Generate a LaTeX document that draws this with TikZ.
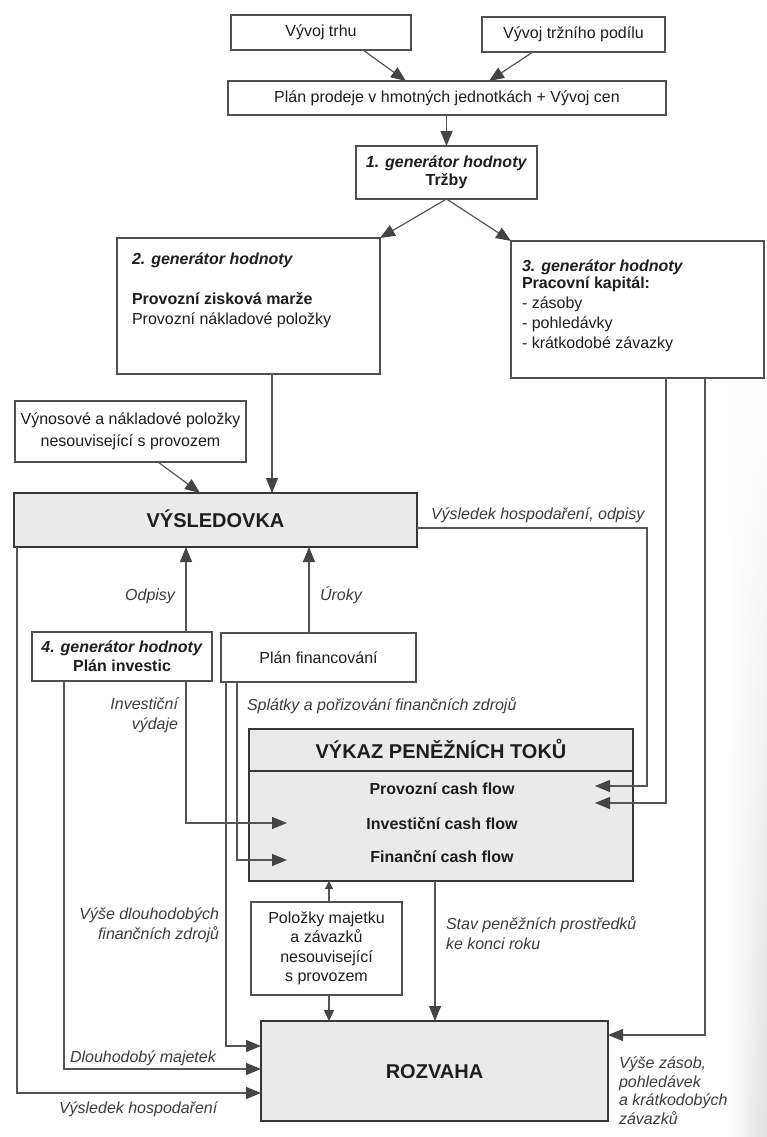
\documentclass[tikz,border=0pt]{standalone}
\usepackage{fontspec}
\setmainfont{Liberation Sans}
\usetikzlibrary{arrows.meta, fadings}

\definecolor{txt}{RGB}{30,30,30}
\definecolor{labtxt}{RGB}{60,60,60}
\definecolor{wire}{RGB}{85,85,85}
\definecolor{edge}{RGB}{80,80,80}
\definecolor{edgedark}{RGB}{55,55,55}
\definecolor{panel}{RGB}{234,234,234}
\definecolor{tipc}{RGB}{68,68,68}

\tikzset{
  base/.style={inner sep=0pt, outer sep=0pt, text=txt, font=\fontsize{16}{20}\selectfont},
  sz/.style 2 args={minimum width=#1pt, minimum height=#2pt},
  oneline/.style={text height=11.5pt, text depth=3.5pt},
  box/.style={base, draw=edge, line width=1.3pt, fill=white, align=center},
  graybox/.style={base, draw=edgedark, line width=2pt, fill=panel},
  title/.style={font=\fontsize{20}{24}\selectfont\bfseries, text height=14.5pt, text depth=0pt},
  row/.style={base, oneline, font=\fontsize{16}{20}\selectfont\bfseries},
  lab/.style={base, text=labtxt, font=\fontsize{16}{20}\selectfont\itshape},
  wireline/.style={draw=wire, line width=1.2pt},
  conn/.style={wireline, -{Triangle[length=15pt, width=12pt, color=tipc]}},
  midconn/.style={wireline, -{Triangle[length=11pt, width=10pt, color=tipc]}},
  smallconn/.style={wireline, -{Triangle[length=8pt, width=8pt, color=tipc]}},
}

\begin{document}
\begin{tikzpicture}[x=1pt, y=-1pt]
\useasboundingbox (0,0) rectangle (767,1137);
\fill[white] (0,0) rectangle (767,1137);
% darkened page edge on the right, fading out towards the top
\shade[left color=white, right color=gray!24, path fading=north] (728,380) rectangle (767,1137);

% ---- boxes ----
\node[box, sz={180}{35}] (trh) at (321,32.5) {Vývoj trhu};
\node[box, sz={183}{35}] (podil) at (573.5,34.5) {Vývoj tržního podílu};
\node[box, sz={438}{34}] (prodej) at (447,98) {Plán prodeje v hmotných jednotkách + Vývoj cen};
\node[box, sz={181}{53}, font=\fontsize{16}{18.5}\selectfont] (gen1) at (446.5,172.5)
  {\textbf{\textit{1. generátor hodnoty}}\\\textbf{Tržby}};

\node[box, sz={263}{136}] (gen2) at (248.5,306) {};
\node[base, anchor=north west, align=left] (gen2txt) at (132,252.5)
  {\textbf{\textit{2. generátor hodnoty}}\\[20pt]\textbf{Provozní zisková marže}\\Provozní nákladové položky};

\node[box, sz={253}{137}] (gen3) at (637.5,309.5) {};
\node[base, anchor=north west, align=left] (gen3txt) at (522,259.5)
  {\textbf{\textit{3. generátor hodnoty}}\\[-3pt]\textbf{Pracovní kapitál:}\\- zásoby\\- pohledávky\\- krátkodobé závazky};

\node[box, sz={231}{61}, font=\fontsize{16}{22.5}\selectfont] (vynos) at (130.5,431.5)
  {Výnosové a nákladové položky\\nesouvisející s provozem};

\node[graybox, sz={403}{54}, title] (vysl) at (215.5,520) {VÝSLEDOVKA};

\node[box, sz={180}{49}, font=\fontsize{16}{19}\selectfont] (gen4) at (122,656.5)
  {\textbf{\textit{4. generátor hodnoty}}\\\textbf{Plán investic}};
\node[box, sz={195}{49}] (fin) at (318.5,657.5) {Plán financování};

\node[graybox, sz={384}{152}] (vykaz) at (441,805) {};
\node[base, title] (vykazhead) at (441,751) {VÝKAZ PENĚŽNÍCH TOKŮ};
\draw[edgedark, line width=1.5pt] (vykaz.west |- 0,771) -- (vykaz.east |- 0,771);
\node[row] (cfprov) at (442,790) {Provozní cash flow};
\node[row] (cfinv) at (442,825) {Investiční cash flow};
\node[row] (cffin) at (442,858) {Finanční cash flow};

\node[box, sz={151}{93}, font=\fontsize{16}{19.5}\selectfont] (polozky) at (326.5,948.5)
  {Položky majetku\\a závazků\\nesouvisející\\s provozem};

\node[graybox, sz={347}{100}, title] (rozvaha) at (434.5,1071) {ROZVAHA};

% arrow ends inside the cash flow statement
\coordinate (tipP1) at (595,786);
\coordinate (tipP2) at (595,803);
\coordinate (tipI) at (287,823);
\coordinate (tipF) at (287,860);

% ---- connectors ----
\draw[conn] (363,0 |- trh.south) -- (406,0 |- prodej.north);
\draw[conn] (533,0 |- podil.south) -- (489,0 |- prodej.north);
\draw[conn] (gen1.north |- prodej.south) -- (gen1.north);
\draw[conn] (gen1.south) -- (gen2.north east);
\draw[conn] (gen1.south) -- (gen3.north west);
\draw[conn] (272,0 |- gen2.south) -- (272,0 |- vysl.north);
\draw[conn] (158,0 |- vynos.south) -- (200,0 |- vysl.north);
\draw[conn] (vysl.east |- 0,528) -| (647,0 |- tipP1) -- (tipP1);
\draw[conn] (666,0 |- gen3.south) |- (tipP2);
\draw[conn] (705,0 |- gen3.south) |- (rozvaha.east |- 0,1035);
\draw[conn] (186,0 |- gen4.north) -- (186,0 |- vysl.south);
\draw[conn] (309,0 |- fin.north) -- (309,0 |- vysl.south);
\draw[conn] (186,0 |- gen4.south) |- (tipI);
\draw[conn] (237,0 |- fin.south) |- (tipF);
\draw[conn] (226,0 |- fin.south) |- (rozvaha.west |- 0,1046);
\draw[conn] (64,0 |- gen4.south) |- (rozvaha.west |- 0,1069);
\draw[conn] (17,0 |- vysl.south) |- (rozvaha.west |- 0,1093);
\draw[smallconn] (329,0 |- polozky.north) -- (329,0 |- vykaz.south);
\draw[midconn] (329,0 |- polozky.south) -- (329,0 |- rozvaha.north);
\draw[conn] (435,0 |- vykaz.south) -- (435,0 |- rozvaha.north);

% ---- connector labels ----
\node[lab, oneline, anchor=west] (lvh) at (431,515) {Výsledek hospodaření, odpisy};
\node[lab, oneline, anchor=east] (lodp) at (175,596) {Odpisy};
\node[lab, oneline, anchor=west] (luro) at (320,596) {Úroky};
\node[lab, anchor=east, align=right] (linv) at (178,715.5) {Investiční\\výdaje};
\node[lab, oneline, anchor=west] (lspl) at (247,706) {Splátky a pořizování finančních zdrojů};
\node[lab, anchor=west, align=left] (lstav) at (446,933) {Stav peněžních prostředků\\ke konci roku};
\node[lab, anchor=east, align=right] (lvdz) at (219,925) {Výše dlouhodobých\\finančních zdrojů};
\node[lab, oneline, anchor=west] (ldm) at (70,1058) {Dlouhodobý majetek};
\node[lab, oneline, anchor=west] (lvhr) at (59,1109) {Výsledek hospodaření};
\node[lab, anchor=west, align=left, font=\fontsize{16}{18.5}\selectfont\itshape] (lzas) at (619,1090.5)
  {Výše zásob,\\pohledávek\\a krátkodobých\\závazků};
\end{tikzpicture}
\end{document}
